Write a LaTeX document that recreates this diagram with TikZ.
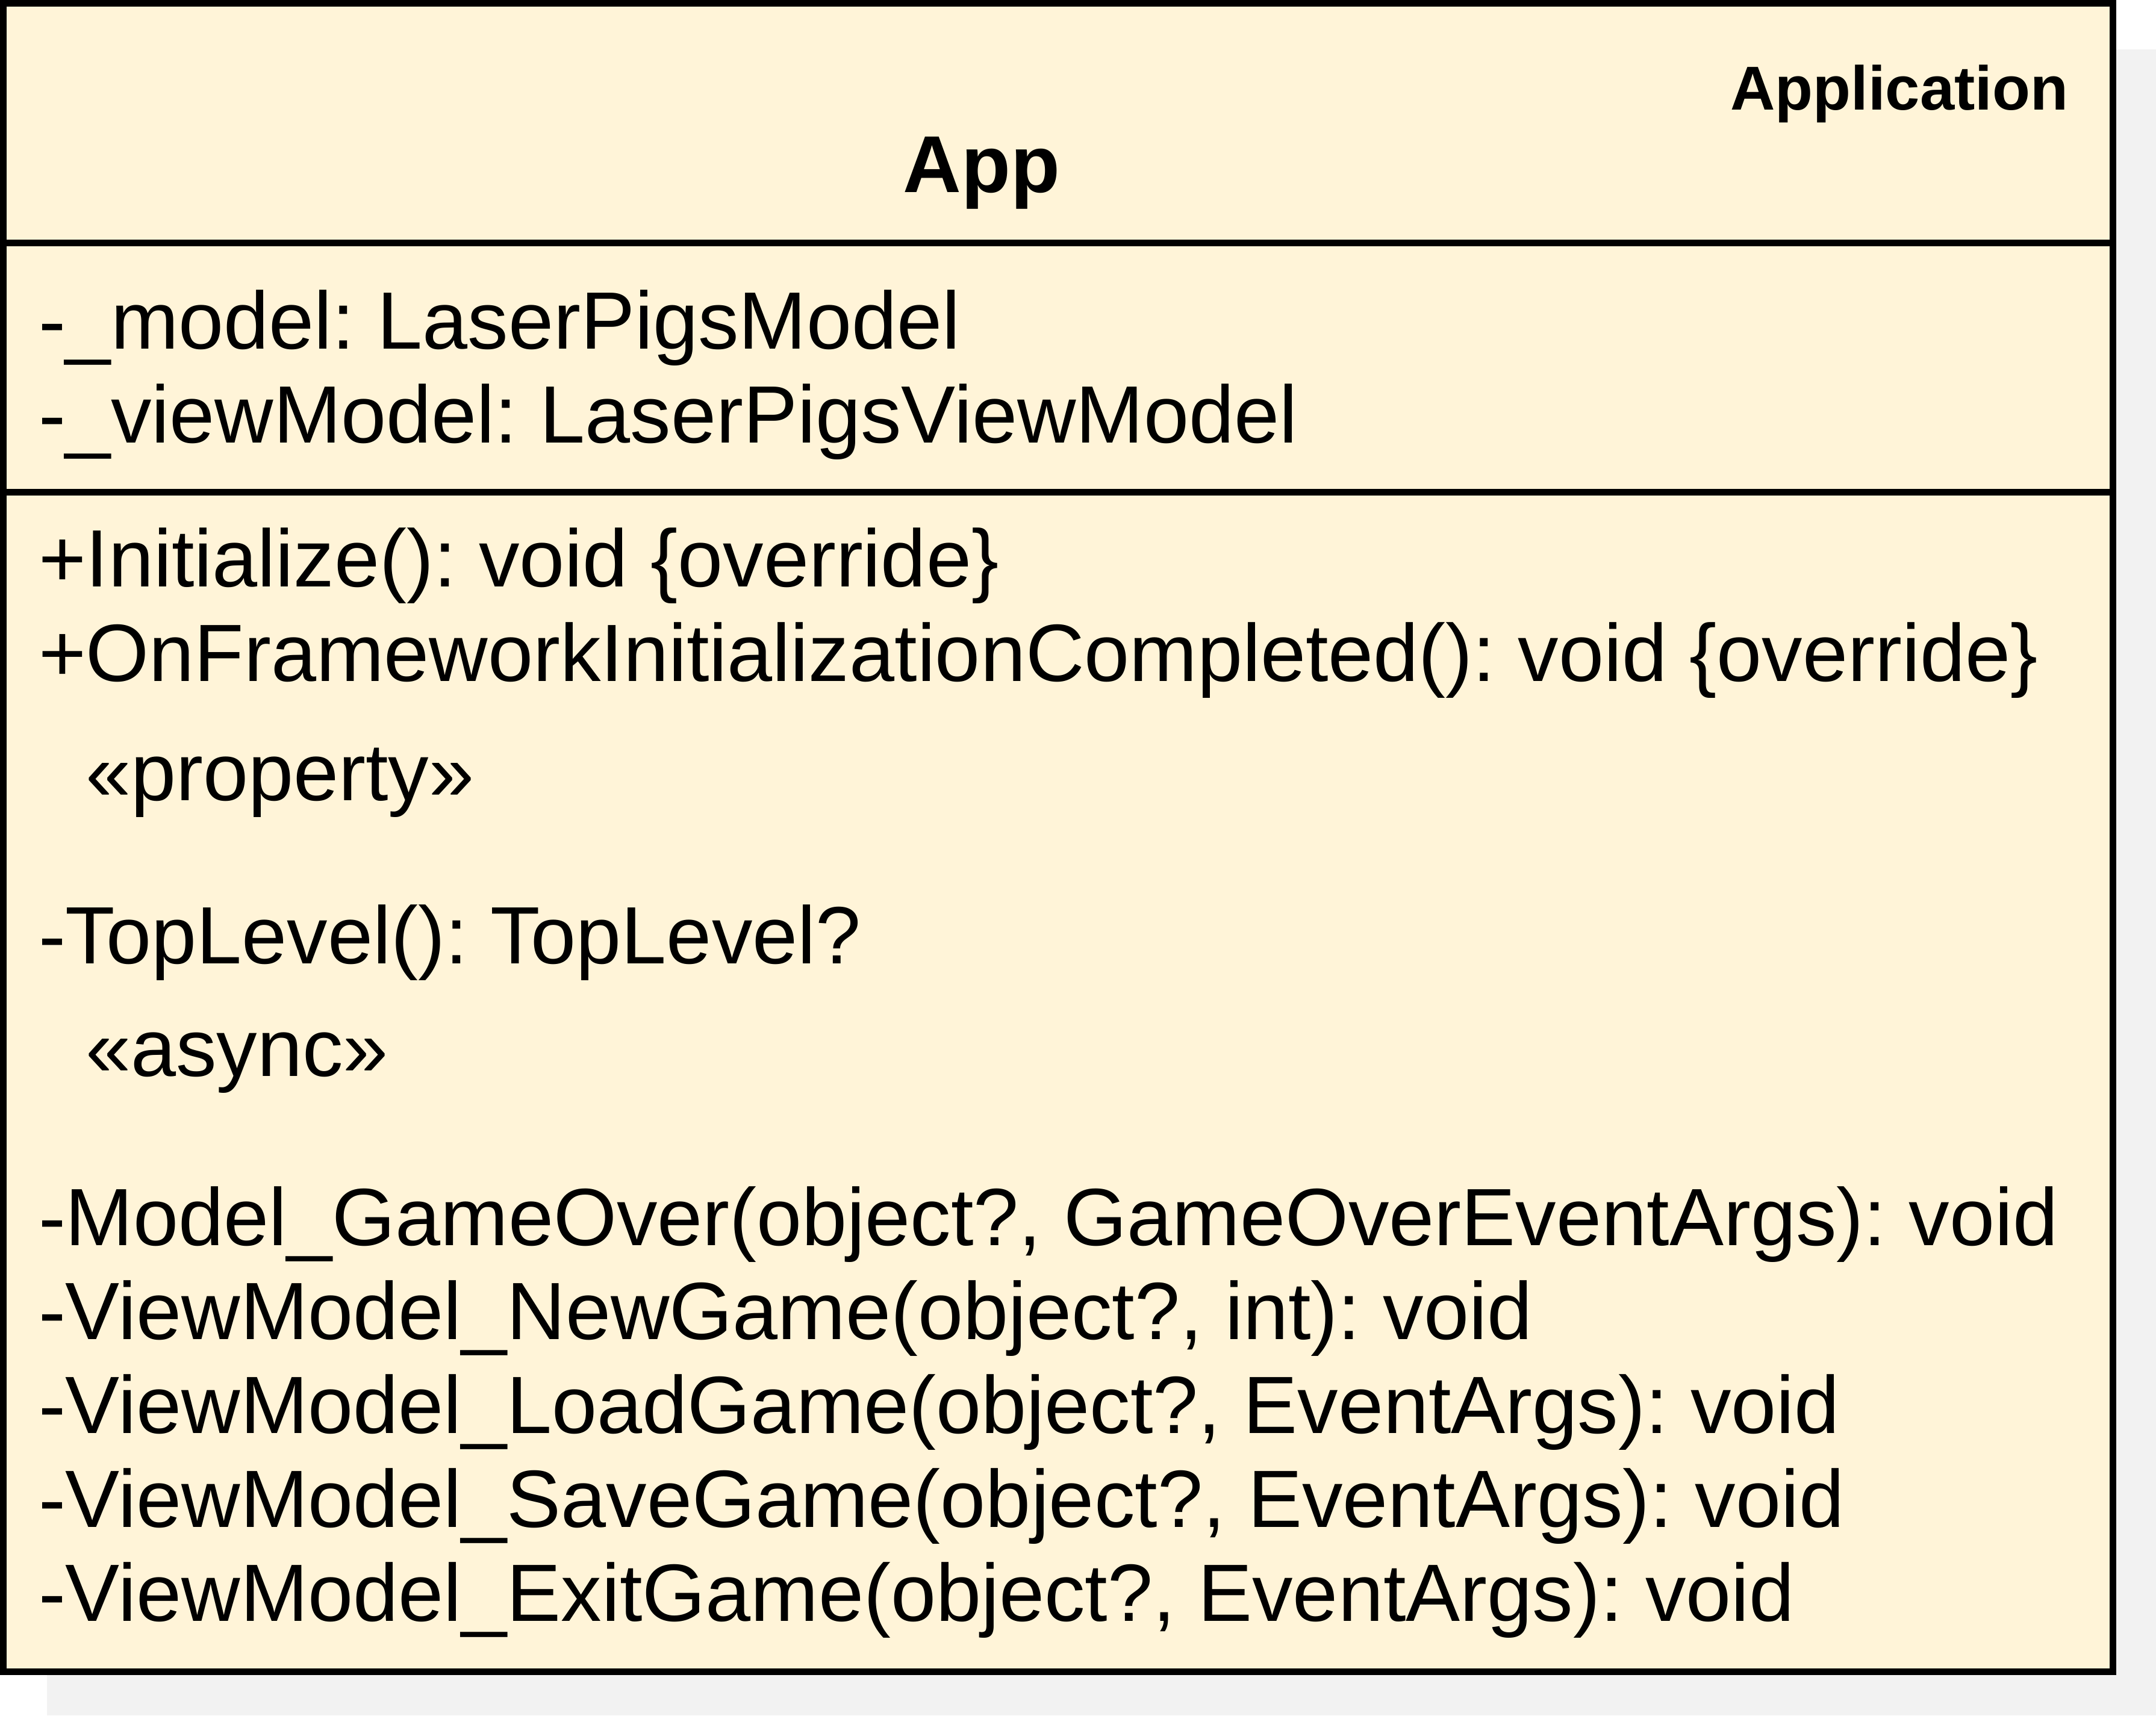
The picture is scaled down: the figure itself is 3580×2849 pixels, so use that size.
\documentclass[tikz,border=0pt]{standalone}
\usepackage{fontspec}
\setmainfont{Liberation Sans}
\usetikzlibrary{positioning}
\definecolor{classfill}{HTML}{FFF4D8}
\definecolor{shadowgray}{HTML}{F2F2F2}
\frenchspacing

\begin{document}
\begin{tikzpicture}[
        x=0.1pt, y=-0.1pt,
        member/.style={anchor=base west, inner sep=0pt, font=\fontsize{13.5}{15.6}\selectfont},
        classname/.style={anchor=base, inner sep=0pt, font=\fontsize{13.4}{16}\selectfont\bfseries},
        stereotype/.style={anchor=base east, inner sep=0pt, font=\fontsize{10.3}{12}\selectfont\bfseries},
        frame/.style={draw=black, line width=1.1pt}
    ]
        \useasboundingbox (0,0) rectangle (3580,2849);
        % shadow and class box
        \fill[shadowgray] (78,82) rectangle (3580,2849);
        \filldraw[frame, fill=classfill] (5.5,5.5) rectangle (3508,2776);
        \draw[frame] (0,404) -- (3508,404);
        \draw[frame] (0,818) -- (3508,818);

        \node[stereotype] (application) at (3436,183) {Application};
        \node[classname] (app) at (1630,320) {App};

        \node[member] (model) at (62,580) {-\_model: LaserPigsModel};
        \node[member] (viewmodel) at (62,736) {-\_viewModel: LaserPigsViewModel};

        \node[member] (initialize) at (62,975) {+Initialize(): void \{override\}};
        \node[member] (onframework) at (62,1131) {+OnFrameworkInitializationCompleted(): void \{override\}};
        \node[member] (propertytag) at (140,1329) {«property»};
        \node[member] (toplevel) at (62,1600) {-TopLevel(): TopLevel?};
        \node[member] (asynctag) at (140,1787) {«async»};
        \node[member] (gameover) at (62,2068) {-Model\_GameOver(object?, GameOverEventArgs): void};
        \node[member] (newgame) at (62,2224) {-ViewModel\_NewGame(object?, int): void};
        \node[member] (loadgame) at (62,2380) {-ViewModel\_LoadGame(object?, EventArgs): void};
        \node[member] (savegame) at (62,2536) {-ViewModel\_SaveGame(object?, EventArgs): void};
        \node[member] (exitgame) at (62,2692) {-ViewModel\_ExitGame(object?, EventArgs): void};
    \end{tikzpicture}
\end{document}
